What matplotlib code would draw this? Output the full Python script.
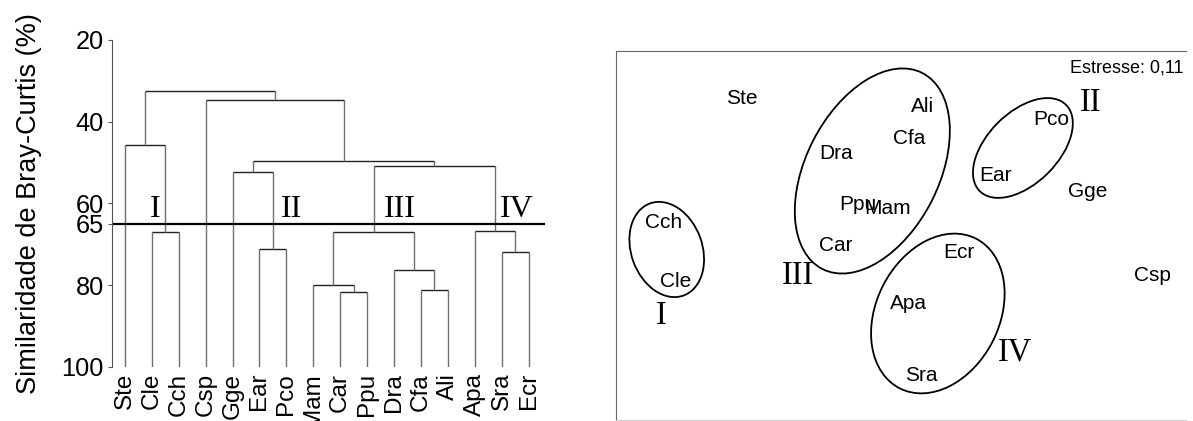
import matplotlib

matplotlib.use("Agg")
import matplotlib.pyplot as plt
from matplotlib.patches import Ellipse

plt.rcParams["font.family"] = ["Liberation Sans", "DejaVu Sans"]

# ── dendrogram data (Bray-Curtis similarity, %) ─────────────────────────────
leaves = ["Ste", "Cle", "Cch", "Csp", "Gge", "Ear", "Pco", "Mam",
          "Car", "Ppu", "Dra", "Cfa", "Ali", "Apa", "Sra", "Ecr"]
# linkage rows: (child a, child b, similarity); new nodes numbered from 16
link_a = [1, 0, 5, 4, 8, 7, 11, 10, 21, 14, 13, 24, 19, 3, 17]
link_b = [2, 16, 6, 18, 9, 20, 12, 22, 23, 15, 25, 26, 27, 28, 29]
link_sim = [66.9, 45.6, 71.3, 52.3, 81.6, 80.1, 81.2, 76.3, 67.1,
            72.0, 66.8, 50.9, 49.6, 34.8, 32.5]
cut_level = 65
yticks = [20, 40, 60, 65, 80, 100]
group_names = ["I", "II", "III", "IV"]
group_pos = [1.12, 6.2, 10.22, 14.56]

# ── NMDS data ───────────────────────────────────────────────────────────────
sp_names = ["Ste", "Dra", "Cch", "Ppu", "Mam", "Ali", "Cfa", "Pco",
            "Ear", "Gge", "Car", "Cle", "Ecr", "Apa", "Sra", "Csp"]
sp_x = [-1.59, -0.65, -2.37, -0.43, -0.13, 0.22, 0.08, 1.50,
        0.95, 1.87, -0.65, -2.25, 0.58, 0.08, 0.20, 2.51]
sp_y = [1.37, 0.82, 0.13, 0.31, 0.27, 1.29, 0.97, 1.16,
        0.60, 0.44, -0.10, -0.46, -0.17, -0.68, -1.40, -0.40]
grp_x = [-2.39, 1.90, -1.03, 1.14]
grp_y = [-0.80, 1.33, -0.40, -1.17]
ell_cx = [-2.34, 1.22, -0.285, 0.37]
ell_cy = [-0.14, 0.875, 0.645, -0.78]
ell_w = [0.98, 1.22, 2.20, 1.68]
ell_h = [0.71, 0.71, 1.33, 1.23]
ell_ang = [110, 45, 63, 63]
stress = "Estresse: 0,11"

fig = plt.figure(figsize=(11.93, 4.21), dpi=100)
fig.patch.set_facecolor("white")

# ── left: dendrogram ────────────────────────────────────────────────────────
ax = fig.add_axes([0.0936, 0.129, 0.3632, 0.776])
node_x = list(range(len(leaves)))
node_h = [100.0] * len(leaves)
for a, b, s in zip(link_a, link_b, link_sim):
    xa, xb = node_x[a], node_x[b]
    ax.plot([xa, xa], [node_h[a], s], color="#707070", lw=1.0, solid_capstyle="butt")
    ax.plot([xb, xb], [node_h[b], s], color="#707070", lw=1.0, solid_capstyle="butt")
    ax.plot([xa, xb], [s, s], color="#222222", lw=1.0, solid_capstyle="butt")
    node_x.append((xa + xb) / 2)
    node_h.append(s)

ax.axhline(cut_level, color="black", lw=1.6)
for name, gx in zip(group_names, group_pos):
    ax.text(gx, 63.4, name, family="Liberation Serif", fontsize=23,
            ha="center", va="baseline")

ax.set_xlim(-0.494, 15.61)
ax.set_ylim(100, 20)
ax.set_yticks(yticks)
ax.set_xticks(range(len(leaves)))
ax.set_xticklabels(leaves, rotation=90, fontsize=17.5)
ax.tick_params(axis="x", length=0, pad=4.5)
ax.tick_params(axis="y", direction="out", length=3.1, width=0.8, color="#555555",
               labelsize=18.3, pad=2.5)
for side in ["top", "right", "bottom"]:
    ax.spines[side].set_visible(False)
ax.spines["left"].set_color("#555555")
ax.spines["left"].set_linewidth(0.8)
ax.set_ylabel("Similaridade de Bray-Curtis (%)", fontsize=19.5)
ax.yaxis.set_label_coords(-0.161, 0.5)

# ── right: NMDS ordination ──────────────────────────────────────────────────
bx = fig.add_axes([0.5161, 0.0024, 0.478, 0.8765])
bx.set_xlim(-2.85, 2.85)
bx.set_ylim(-1.845, 1.845)
for n, x, y in zip(sp_names, sp_x, sp_y):
    bx.text(x, y, n, fontsize=15, ha="center", va="center")
for n, x, y in zip(group_names, grp_x, grp_y):
    bx.text(x, y, n, family="Liberation Serif", fontsize=23.5, ha="center", va="center")
for cx, cy, w, h, ang in zip(ell_cx, ell_cy, ell_w, ell_h, ell_ang):
    bx.add_patch(Ellipse((cx, cy), w, h, angle=ang, fill=False,
                         edgecolor="black", lw=1.3))
bx.text(0.995, 0.955, stress, transform=bx.transAxes, fontsize=13,
        ha="right", va="center")
bx.set_xticks([])
bx.set_yticks([])
bx.spines["right"].set_visible(False)
bx.spines["left"].set_color("#666666")
bx.spines["top"].set_color("#666666")
bx.spines["bottom"].set_color("#cccccc")

fig.savefig("out.png", dpi=100)
